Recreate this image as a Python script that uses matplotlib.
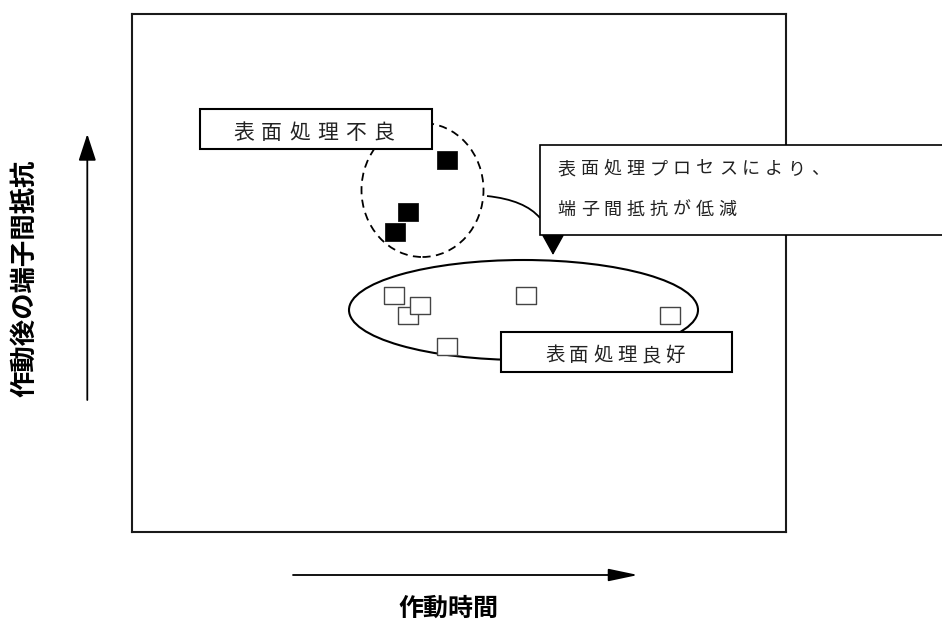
import matplotlib.pyplot as plt
from matplotlib.patches import Ellipse, Rectangle, PathPatch
from matplotlib.path import Path

plt.rcParams['font.family'] = ['Noto Sans CJK JP', 'DejaVu Sans']

# qualitative data, arbitrary units (origin = lower-left corner of the frame)
bad_x = [315, 276, 263]
bad_y = [372, 320, 300]
good_x = [262, 276, 288, 394, 538, 315]
good_y = [237, 217, 227, 237, 217, 186]

xlabel = '作動時間'
ylabel = '作動後の端子間抵抗'
bad_label = '表面処理不良'
good_label = '表面処理良好'
note_lines = ['表面処理プロセスにより、', '端子間抵抗が低減']

fig = plt.figure(figsize=(9.42, 6.22), dpi=100)
ax = fig.add_axes([132 / 942, 90 / 622, 654 / 942, 518 / 622])
ax.set_xlim(0, 654)
ax.set_ylim(0, 518)
ax.set_xticks([])
ax.set_yticks([])
for sp in ax.spines.values():
    sp.set_linewidth(1.5)
    sp.set_color('#1a1a1a')


def spaced(x0, y, s, pitch, size):
    # draw text with wide letter spacing, one glyph at a time
    for i, ch in enumerate(s):
        ax.text(x0 + i * pitch, y, ch, ha='center', va='center', fontsize=size,
                color='#222222', zorder=7, clip_on=False)


rect = [(-1, -0.85), (1, -0.85), (1, 0.85), (-1, 0.85), (-1, -0.85)]
ax.plot(bad_x, bad_y, ls='none', marker=rect, ms=15, mfc='black', mec='black',
        mew=0.5, zorder=4)
ax.plot(good_x, good_y, ls='none', marker=rect, ms=14.4, mfc='white', mec='#444444',
        mew=1.0, zorder=4)

# groups
ax.add_patch(Ellipse((391.5, 222), 349, 100, fill=False, lw=1.5, ec='black', zorder=3))
ax.add_patch(Ellipse((290.5, 342), 122, 134, fill=False, lw=1.3, ec='black',
                     ls=(0, (4.5, 3)), zorder=3))

# connector from the bad group to the note box
conn = Path([(355, 336), (393, 332), (408, 314)], [Path.MOVETO, Path.CURVE3, Path.CURVE3])
ax.add_patch(PathPatch(conn, fill=False, lw=1.3, ec='black', zorder=3, clip_on=False))

# label boxes
ax.add_patch(Rectangle((68, 383), 232, 40, fc='white', ec='black', lw=1.5, zorder=5,
                       clip_on=False))
ax.add_patch(Rectangle((369, 160), 231, 40, fc='white', ec='black', lw=1.5, zorder=5,
                       clip_on=False))
ax.add_patch(Rectangle((408, 297), 420, 90, fc='white', ec='black', lw=1.2, zorder=5,
                       clip_on=False))

spaced(111.5, 399, bad_label, 28, 15)
spaced(423, 176.5, good_label, 24, 14)
spaced(434.7, 363, note_lines[0], 23, 13)
spaced(434.7, 322, note_lines[1], 23, 13)

# arrow from note to good group
ax.annotate('', xy=(421, 277), xytext=(421, 297), annotation_clip=False,
            arrowprops=dict(arrowstyle='-|>,head_length=1.3,head_width=0.72',
                            mutation_scale=10, color='black', lw=1, shrinkA=0, shrinkB=0))

# axis direction arrows
ax.annotate('', xy=(-44.7, 398), xytext=(-44.7, 132), annotation_clip=False,
            arrowprops=dict(arrowstyle='-|>,head_length=1.65,head_width=0.54',
                            mutation_scale=10, color='black', lw=1.3, shrinkA=0, shrinkB=0))
ax.annotate('', xy=(506, -43), xytext=(161, -43), annotation_clip=False,
            arrowprops=dict(arrowstyle='-|>,head_length=1.8,head_width=0.38',
                            mutation_scale=10, color='black', lw=1.3, shrinkA=0, shrinkB=0))

ax.text(-107, 254, ylabel, rotation=90, ha='center', va='center', fontsize=19,
        fontweight='bold', clip_on=False)
ax.text(316, -77, xlabel, ha='center', va='center', fontsize=18, fontweight='bold',
        clip_on=False)

fig.savefig('out.png', dpi=100)
